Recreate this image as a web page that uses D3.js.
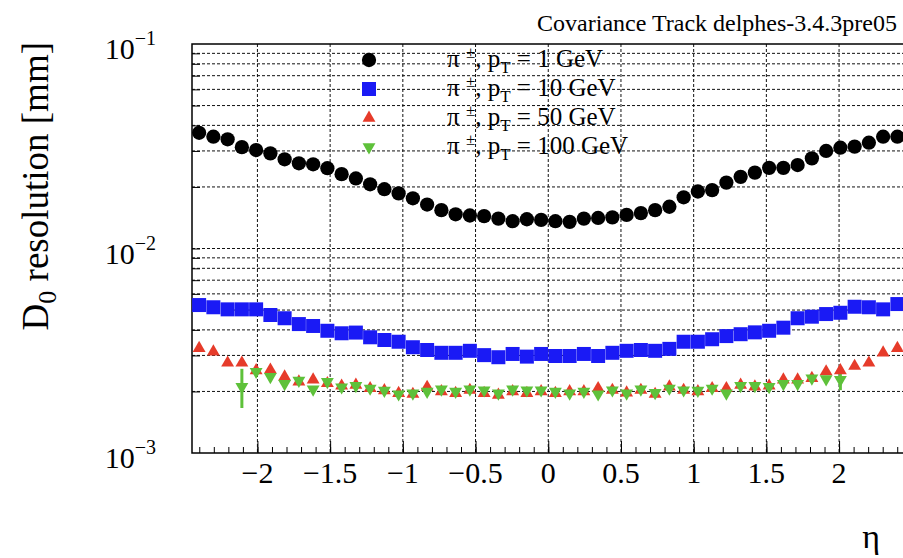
<!DOCTYPE html>
<html>
<head>
<meta charset="utf-8">
<script src="https://cdn.jsdelivr.net/npm/d3@7"></script>
<style>
  body { margin: 0; background: #fff; }
  text { font-family: "Liberation Serif", "Times New Roman", serif; fill: #000; }
</style>
</head>
<body>
<div id="chart"></div>
<script>
// histogram binning in eta (50 bins)
var etaLow = -2.45;
var etaWidth = 0.098;
var nBins = 50;

// D0 resolution [mm] per eta bin
var pt1 = [0.0368, 0.0352, 0.0342, 0.0313, 0.0303, 0.0292, 0.0273, 0.0261, 0.0258, 0.0247,
  0.0231, 0.0220, 0.0206, 0.0195, 0.0186, 0.0176, 0.0164, 0.0154, 0.0147, 0.0145,
  0.0144, 0.0140, 0.0136, 0.0139, 0.0138, 0.0136, 0.0135, 0.0140, 0.0141, 0.0142,
  0.0146, 0.0149, 0.0154, 0.0160, 0.0178, 0.0190, 0.0193, 0.0210, 0.0224, 0.0235,
  0.0248, 0.0248, 0.0256, 0.0276, 0.0300, 0.0311, 0.0315, 0.0329, 0.0352, 0.0352];

var pt10 = [0.00529, 0.00516, 0.00504, 0.00504, 0.00504, 0.00473, 0.00456, 0.00427, 0.00418, 0.00396,
  0.00385, 0.00388, 0.00368, 0.00357, 0.00350, 0.00329, 0.00319, 0.00309, 0.00309, 0.00316,
  0.00301, 0.00294, 0.00305, 0.00296, 0.00305, 0.00298, 0.00298, 0.00305, 0.00298, 0.00309,
  0.00316, 0.00319, 0.00316, 0.00323, 0.00350, 0.00350, 0.00360, 0.00373, 0.00381, 0.00389,
  0.00396, 0.00410, 0.00456, 0.00464, 0.00478, 0.00485, 0.00519, 0.00516, 0.00504, 0.00535];

var pt50 = [0.00325, 0.00313, 0.00276, 0.00276, 0.00253, 0.00255, 0.00236, 0.00223, 0.00228, 0.00219,
  0.00213, 0.00215, 0.00207, 0.00202, 0.00196, 0.00194, 0.00210, 0.00200, 0.00196, 0.00203,
  0.00196, 0.00192, 0.00200, 0.00196, 0.00200, 0.00196, 0.00200, 0.00200, 0.00207, 0.00203,
  0.00197, 0.00203, 0.00194, 0.00211, 0.00203, 0.00200, 0.00207, 0.00207, 0.00215, 0.00211,
  0.00213, 0.00228, 0.00228, 0.00232, 0.00250, 0.00253, 0.00266, 0.00276, 0.00309, 0.00325];

var pt100 = [null, null, null, 0.00211, 0.00250, 0.00236, 0.00218, 0.00226, 0.00205, 0.00223,
  0.00210, 0.00213, 0.00207, 0.00202, 0.00194, 0.00196, 0.00200, 0.00205, 0.00200, 0.00205,
  0.00203, 0.00196, 0.00205, 0.00203, 0.00203, 0.00200, 0.00196, 0.00200, 0.00194, 0.00203,
  0.00196, 0.00205, 0.00197, 0.00207, 0.00203, 0.00202, 0.00207, 0.00196, 0.00213, 0.00213,
  0.00211, 0.00218, 0.00218, 0.00232, 0.00230, 0.00228, null, null, null, null];

// visible error bars on the pT = 100 GeV points
var errBins = [3, 45];
var errLow = [0.00166, 0.00203];
var errHigh = [0.00258, 0.00250];

// legend pT values and axis ticks
var ptLabels = ["1", "10", "50", "100"];
var xTicks = [-2, -1.5, -1, -0.5, 0, 0.5, 1, 1.5, 2];
var yDecades = [-3, -2, -1];

var svgWidth = 903;
var svgHeight = 558;
var margin = { top: 44, left: 192, bottom: 105 };
var plotRight = 904.5;
var plotBottom = svgHeight - margin.bottom; // 453

var svg = d3.select("#chart")
  .append("svg")
  .attr("width", svgWidth)
  .attr("height", svgHeight);

var xScale = d3.scaleLinear()
  .domain([-2.45, 2.45])
  .range([margin.left, plotRight]);

var yScale = d3.scaleLog()
  .domain([1e-3, 1e-1])
  .range([plotBottom, margin.top]);

var eta = d3.range(nBins).map(i => etaLow + etaWidth * (i + 0.5));

// grid: dashed lines at major x ticks and every log tick
var yGrid = [];
yDecades.slice(0, 2).forEach(function (p) {
  for (var k = 1; k <= 9; k++) yGrid.push(k * Math.pow(10, p));
});

var grid = svg.append("g");
grid.selectAll(".gx")
  .data(xTicks)
  .enter()
  .append("line")
  .attr("x1", d => xScale(d))
  .attr("x2", d => xScale(d))
  .attr("y1", margin.top)
  .attr("y2", plotBottom)
  .attr("stroke", "#111")
  .attr("stroke-dasharray", "3,2");

grid.selectAll(".gy")
  .data(yGrid.filter(d => d > 1e-3))
  .enter()
  .append("line")
  .attr("x1", margin.left)
  .attr("x2", plotRight)
  .attr("y1", d => yScale(d))
  .attr("y2", d => yScale(d))
  .attr("stroke", "#111")
  .attr("stroke-dasharray", "3,2");

// x axis: major and minor ticks
svg.append("g")
  .attr("transform", `translate(0, ${plotBottom})`)
  .call(d3.axisTop(xScale).tickValues(xTicks).tickSize(12).tickFormat(""))
  .call(g => g.select(".domain").remove());

var xMinor = d3.range(-24, 25).map(d => d / 10);
svg.append("g")
  .attr("transform", `translate(0, ${plotBottom})`)
  .call(d3.axisTop(xScale).tickValues(xMinor).tickSize(6).tickFormat(""))
  .call(g => g.select(".domain").remove());

svg.append("g")
  .selectAll("text")
  .data(xTicks)
  .enter()
  .append("text")
  .attr("x", d => xScale(d))
  .attr("y", plotBottom + 30)
  .attr("text-anchor", "middle")
  .style("font-size", "30px")
  .text(d => d3.format("")(d).replace("-", "\u2212"));

// y axis ticks
svg.append("g")
  .attr("transform", `translate(${margin.left}, 0)`)
  .call(d3.axisRight(yScale).tickValues(yGrid.filter(d => d > 1e-3)).tickSize(8).tickFormat(""))
  .call(g => g.select(".domain").remove());

var yLabels = svg.append("g")
  .selectAll("text")
  .data(yDecades)
  .enter()
  .append("text")
  .attr("x", 156)
  .attr("y", d => yScale(Math.pow(10, d)) + 15)
  .attr("text-anchor", "end")
  .style("font-size", "30px");
yLabels.append("tspan").text("10");
yLabels.append("tspan")
  .attr("dy", -14)
  .style("font-size", "20px")
  .text(d => "\u2212" + Math.abs(d));

// frame
svg.append("rect")
  .attr("x", margin.left)
  .attr("y", margin.top)
  .attr("width", plotRight - margin.left)
  .attr("height", plotBottom - margin.top)
  .attr("fill", "none")
  .attr("stroke", "#000")
  .attr("stroke-width", 1.5);

// series
var series = [
  { values: pt1, color: "#000000", symbol: d3.symbolCircle, size: 160, rot: 0 },
  { values: pt10, color: "#1a1af5", symbol: d3.symbolSquare, size: 196, rot: 0 },
  { values: pt50, color: "#e63b2a", symbol: d3.symbolTriangle, size: 72, rot: 0 },
  { values: pt100, color: "#5ec13a", symbol: d3.symbolTriangle, size: 72, rot: 180 }
];

var plot = svg.append("g");

// green error bars
plot.selectAll(".err")
  .data(errBins)
  .enter()
  .append("line")
  .attr("x1", d => xScale(eta[d]))
  .attr("x2", d => xScale(eta[d]))
  .attr("y1", (d, i) => yScale(errLow[i]))
  .attr("y2", (d, i) => yScale(errHigh[i]))
  .attr("stroke", "#5ec13a")
  .attr("stroke-width", 3);

series.forEach(function (s) {
  var pts = eta.map((e, i) => ({ eta: e, v: s.values[i] })).filter(d => d.v != null);
  plot.append("g")
    .selectAll("path")
    .data(pts)
    .enter()
    .append("path")
    .attr("d", d3.symbol().type(s.symbol).size(s.size))
    .attr("transform", d => `translate(${xScale(d.eta)}, ${yScale(d.v)}) rotate(${s.rot})`)
    .attr("fill", s.color);
});

// legend
var legend = svg.append("g");
series.forEach(function (s, i) {
  var ly = 60 + i * 29;
  legend.append("path")
    .attr("d", d3.symbol().type(s.symbol).size(s.size))
    .attr("transform", `translate(369, ${ly}) rotate(${s.rot})`)
    .attr("fill", s.color);
  var t = legend.append("text")
    .attr("x", 447)
    .attr("y", ly + 7)
    .style("font-size", "25px");
  t.append("tspan").text("\u03c0 ");
  t.append("tspan").attr("dy", -9).style("font-size", "17px").text("\u00b1");
  t.append("tspan").attr("dy", 9).text(", p");
  t.append("tspan").attr("dy", 6).style("font-size", "17px").text("T");
  t.append("tspan").attr("dy", -6).text(" = " + ptLabels[i] + " GeV");
});

// titles
svg.append("text")
  .attr("x", 897)
  .attr("y", 31)
  .attr("text-anchor", "end")
  .style("font-size", "24px")
  .text("Covariance Track delphes-3.4.3pre05");

var yTitle = svg.append("text")
  .attr("transform", "translate(48, 42) rotate(-90)")
  .attr("text-anchor", "end")
  .style("font-size", "37px");
yTitle.append("tspan").text("D");
yTitle.append("tspan").attr("dy", 8).style("font-size", "26px").text("0");
yTitle.append("tspan").attr("dy", -8).text(" resolution [mm]");

svg.append("text")
  .attr("x", 880)
  .attr("y", 548)
  .attr("text-anchor", "end")
  .style("font-size", "34px")
  .text("\u03b7");
</script>
</body>
</html>
